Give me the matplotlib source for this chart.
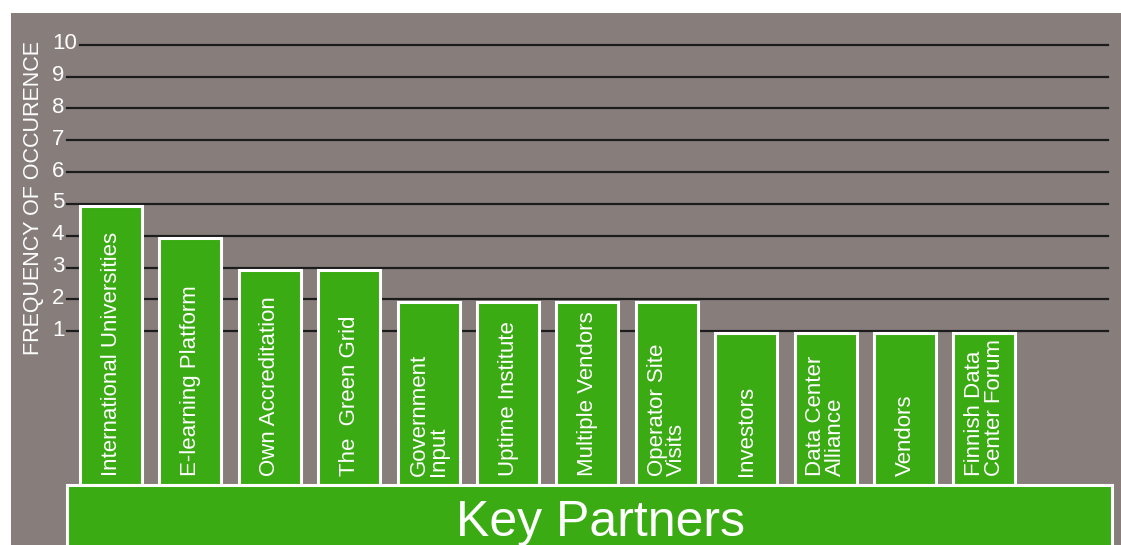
import matplotlib
matplotlib.use("Agg")
import matplotlib.pyplot as plt
from matplotlib.patches import Rectangle

plt.rcParams['font.family'] = ['Liberation Sans', 'DejaVu Sans']

partners = ["International Universities", "E-learning Platform", "Own Accreditation",
            "The  Green Grid", "Government\nInput", "Uptime Institute",
            "Multiple Vendors", "Operator Site\nVisits", "Investors",
            "Data Center\nAlliance", "Vendors", "Finnish Data\nCenter Forum"]
counts = [5, 4, 3, 3, 2, 2, 2, 2, 1, 1, 1, 1]
yticks = list(range(1, 11))
ylabel = "FREQUENCY OF OCCURENCE"
title = "Key Partners"

bg = "#877e7c"
green = "#3aab13"

fig = plt.figure(figsize=(11.21, 5.45), dpi=100)
ax = fig.add_axes([11 / 1121, 0, 1 - 11 / 1121, (545 - 13) / 545])
ax.set_facecolor(bg)
ax.set_xlim(-1.26, 12.72)
ax.set_ylim(-5.72, 11.0)
ax.set_xticks([])
ax.set_yticks([])
for s in ax.spines.values():
    s.set_visible(False)

base = -3.84   # top of the "Key Partners" box
gap = 0.07     # bars sit just under their gridline

# gridlines
for t in yticks:
    start = -0.39 if t == 10 else -0.555
    ax.plot([start, 12.56], [t, t], color="#1c1c1c", lw=1.6, zorder=1)
    ax.text(-0.745, t + 0.03, str(t), color="white", fontsize=16,
            ha="left", va="center", zorder=3)

ax.text(-0.975, 5.2, ylabel, color="white", fontsize=15.5, rotation=90,
        ha="center", va="center")

x = list(range(len(partners)))
heights = [c - gap - base for c in counts]
ax.bar(x, heights, bottom=base, width=0.78, color=green, edgecolor="white",
       linewidth=2.2, zorder=2)

for xi, name in zip(x, partners):
    ax.text(xi, base + 0.3, name, color="white", fontsize=16, rotation=90,
            ha="center", va="bottom", multialignment="left",
            linespacing=0.9, zorder=3)

box = Rectangle((-0.555, base - 3), 13.165, 3, facecolor=green,
                edgecolor="white", linewidth=2.2, zorder=2)
ax.add_patch(box)
ax.text(6.16, base - 1.2, title, color="white", fontsize=36, ha="center",
        va="center", zorder=3)

fig.savefig("out.png", dpi=100)
